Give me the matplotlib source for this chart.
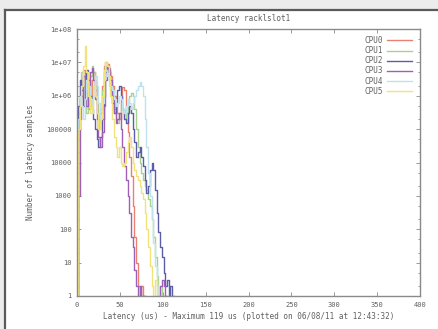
import numpy as np
import matplotlib
matplotlib.use('Agg')
import matplotlib.pyplot as plt
from matplotlib.ticker import LogLocator, FixedLocator, FixedFormatter

# histogram bins (us) and sample counts per bin
latency = list(range(0, 122, 2))

cpu0 = [1, 1e5, 8e5, 2e6, 6e6, 3e6, 8e5, 4e5, 1e6, 3e6, 5e6, 1.5e6, 3e5, 1e5,
        3e5, 2e6, 8e6, 1e7, 9e6, 7e6, 4e6, 2e6, 1e6, 5e5, 3e5, 2e5, 8e5, 1.8e6,
        1.5e6, 3e5, 8e4, 1.5e4, 4e3, 500, 60, 10, 2, 1, 2, 1]
cpu1 = [1, 3e5, 2e6, 5e6, 2e6, 6e5, 3e5, 1e6, 4e6, 8e6, 5e6, 2e6, 6e5, 2e5,
        4e5, 1.5e6, 5e6, 8e6, 6e6, 3e6, 1.5e6, 8e5, 4e5, 2e5, 1.5e5, 3e5, 6e5,
        4e5, 2e5, 3e5, 6e5, 1e6, 1.2e6, 1e6, 4e5, 1e5, 3e4, 1e4, 5e3, 3e3, 2e3,
        1.5e3, 800, 500, 200, 60, 15, 4, 1, 2, 1]
cpu2 = [1, 5e5, 3e6, 1.5e6, 5e5, 2e6, 6e6, 3e6, 1e6, 4e5, 2e5, 1e5, 5e4, 3e4,
        6e4, 2e5, 1e6, 5e6, 8e6, 5e6, 2e6, 6e5, 3e5, 5e5, 1.5e6, 2e6, 1e6, 4e5,
        2e5, 1.5e5, 3e5, 5e5, 3e5, 1e5, 4e4, 1.5e4, 2e4, 3e4, 1.5e4, 8e3, 3e3,
        1.2e3, 2e3, 6e3, 1e4, 6e3, 1.5e3, 300, 80, 30, 15, 5, 2, 3, 1, 2, 1]
cpu3 = [1, 1e3, 2e5, 1e6, 4e6, 1.5e6, 5e5, 2e6, 5e6, 7e6, 3e6, 8e5, 2e5, 6e4,
        3e4, 8e4, 5e5, 3e6, 7e6, 6e6, 3e6, 1e6, 3e5, 1.5e5, 2e5, 3e5, 1e5, 3e4,
        8e3, 3e3, 1e3, 300, 60, 30, 6, 2, 1, 2, 1, 1, 0, 0, 0, 0, 0, 0, 0, 0,
        1, 2, 3, 2, 1]
cpu4 = [1, 2e5, 1e6, 5e5, 2e5, 8e5, 3e6, 2e6, 8e5, 3e5, 1e6, 4e6, 2e6, 6e5,
        2e5, 6e5, 3e6, 6e6, 4e6, 2e6, 2e6, 1.5e6, 8e5, 5e5, 6e5, 1e6, 8e5, 4e5,
        3e5, 5e5, 8e5, 6e5, 4e5, 6e5, 1e6, 1.5e6, 2e6, 2.5e6, 2e6, 1e6, 2e5,
        3e4, 5e3, 1e3, 200, 40, 8, 2, 1]
cpu5 = [1, 1e5, 5e5, 2e6, 8e6, 3e7, 5e6, 1e6, 3e5, 5e5, 2e6, 1e6, 3e5, 1e5,
        2e5, 1e6, 6e6, 1e7, 8e6, 4e6, 1e6, 2e5, 6e4, 3e4, 1.5e4, 3e4, 1e4, 8e3,
        1e4, 2e4, 4e4, 6e4, 3e4, 1e4, 6e3, 4e3, 3e3, 2e3, 1.2e3, 800, 300, 100,
        30, 8, 2, 1, 3, 1]

cpus = [('CPU0', cpu0, '#e8826e'), ('CPU1', cpu1, '#a6d48e'),
        ('CPU2', cpu2, '#5c5ca8'), ('CPU3', cpu3, '#9c60b4'),
        ('CPU4', cpu4, '#bfe2ee'), ('CPU5', cpu5, '#f2e27a')]

ytick_vals = [1, 10, 100, 1000, 10000, 100000, 1e6, 1e7, 1e8]
ytick_labels = ['1', '10', '100', '1000', '10000', '100000',
                '1e+06', '1e+07', '1e+08']
xtick_vals = [0, 50, 100, 150, 200, 250, 300, 350, 400]

FONT = 'DejaVu Sans Mono'
GREY = '#8a8a8a'
TXT = '#606060'

def pad(vals):
    v = np.array(vals + [0] * (len(latency) - len(vals)), dtype=float)
    v[v <= 0] = np.nan
    return v

fig = plt.figure(figsize=(4.38, 3.29), dpi=100)
fig.patch.set_facecolor('white')

# scanned page frame
fig.add_artist(matplotlib.patches.Rectangle((0, 1 - 10 / 329.), 1, 10 / 329.,
               transform=fig.transFigure, color='#ececec', lw=0))
fig.add_artist(matplotlib.patches.Rectangle((0, 0), 5 / 438., 1,
               transform=fig.transFigure, color='#ececec', lw=0))
fig.add_artist(matplotlib.lines.Line2D([5 / 438., 1], [1 - 10 / 329.] * 2,
               transform=fig.transFigure, color='#5a5a5a', lw=1.6))
fig.add_artist(matplotlib.lines.Line2D([5 / 438.] * 2, [0, 1 - 10 / 329.],
               transform=fig.transFigure, color='#5a5a5a', lw=1.6))

ax = fig.add_axes([77 / 438., 33 / 329., 343 / 438., 267 / 329.])
for name, vals, col in cpus:
    ax.plot(latency, pad(vals), color=col, lw=1.0, drawstyle='steps-mid',
            label=name)

ax.set_yscale('log')
ax.set_xlim(0, 400)
ax.set_ylim(1, 1e8)
ax.yaxis.set_major_locator(FixedLocator(ytick_vals))
ax.yaxis.set_major_formatter(FixedFormatter(ytick_labels))
ax.yaxis.set_minor_locator(LogLocator(base=10, subs=(2., 5.)))
ax.yaxis.set_minor_formatter(matplotlib.ticker.NullFormatter())
ax.xaxis.set_major_locator(FixedLocator(xtick_vals))
ax.tick_params(which='both', direction='in', top=True, right=True,
               colors=GREY, labelcolor=TXT, labelsize=5, width=0.6)
ax.tick_params(which='major', length=3, pad=4)
ax.tick_params(which='minor', length=1.5)
for lbl in ax.get_xticklabels() + ax.get_yticklabels():
    lbl.set_family(FONT)
for s in ax.spines.values():
    s.set_color(GREY)
    s.set_linewidth(1.0)

ax.set_title('Latency racklslot1', fontsize=5.5, family=FONT, color=TXT,
             pad=6)
ax.set_xlabel('Latency (us) - Maximum 119 us (plotted on 06/08/11 at 12:43:32)',
              fontsize=5.5, family=FONT, color=TXT, labelpad=3)
ax.set_ylabel('Number of latency samples', fontsize=5.5, family=FONT,
              color=TXT, labelpad=8)

leg = ax.legend(loc='upper right', bbox_to_anchor=(0.985, 0.985),
                borderaxespad=0, frameon=False, markerfirst=False,
                handlelength=3.2, handletextpad=0.6, labelspacing=0.15,
                prop={'family': FONT, 'size': 5.5})
for t in leg.get_texts():
    t.set_color(TXT)

fig.savefig('out.png', dpi=100)
